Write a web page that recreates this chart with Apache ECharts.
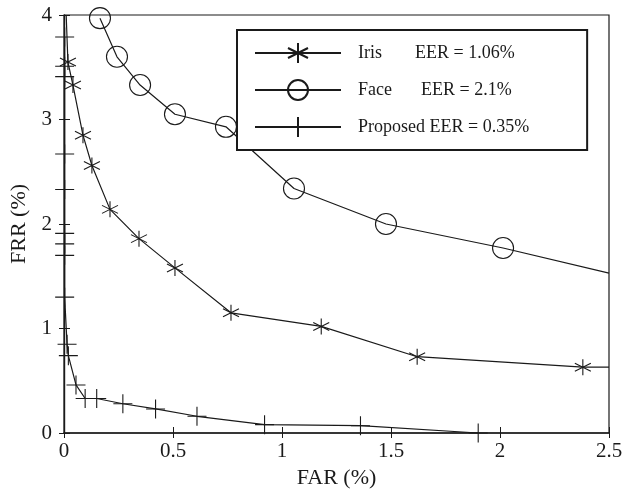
<!DOCTYPE html>
<html>
<head>
    <meta charset="utf-8">
    <title>FAR vs FRR</title>
    <script src="https://cdn.jsdelivr.net/npm/echarts@6/dist/echarts.min.js"></script>
</head>
<body style="margin:0">
<div id="main" style="width: 627px;height:494px;"></div>
<script type="text/javascript">
    // values (FAR %, FRR %)
    var irisFar = [0.01, 0.018, 0.041, 0.087, 0.128, 0.211, 0.344, 0.509, 0.766, 1.18, 1.62, 2.38, 2.5];
    var irisFrr = [4.0, 3.55, 3.33, 2.85, 2.56, 2.14, 1.86, 1.58, 1.15, 1.02, 0.73, 0.63, 0.63];

    var faceFar = [0.165, 0.243, 0.349, 0.509, 0.743, 1.055, 1.477, 2.014, 2.5];
    var faceFrr = [3.97, 3.60, 3.33, 3.05, 2.93, 2.34, 2.00, 1.77, 1.53];

    var propFar = [0.003, 0.003, 0.003, 0.003, 0.003, 0.003, 0.003, 0.003, 0.003,
                   0.014, 0.02, 0.055, 0.097, 0.15, 0.27, 0.42, 0.61, 0.92, 1.36, 1.90];
    var propFrr = [3.79, 3.51, 3.41, 2.67, 2.33, 1.91, 1.81, 1.70, 1.30,
                   0.85, 0.74, 0.46, 0.33, 0.33, 0.28, 0.23, 0.16, 0.08, 0.07, 0.0];

    var names = ['Iris', 'Face', 'Proposed'];
    var eers = ['EER = 1.06%', 'EER = 2.1%', 'EER = 0.35%'];

    var FONT = 'Liberation Serif';
    var INK = '#1a1a1a';
    var starPath = 'path://M0,-1L0,1M-0.87,-0.5L0.87,0.5M-0.87,0.5L0.87,-0.5';
    var plusPath = 'path://M0,-1L0,1M-1,0L1,0';

    function pairs(xs, ys, noSymbolFirst, noSymbolLast) {
        var out = [];
        for (var i = 0; i < xs.length; i++) {
            var item = { value: [xs[i], ys[i]] };
            if ((noSymbolFirst && i === 0) || (noSymbolLast && i === xs.length - 1)) {
                item.symbol = 'none';
            }
            out.push(item);
        }
        return out;
    }

    var myChart = echarts.init(document.getElementById('main'));

    var option = {
        animation: false,
        backgroundColor: '#fff',
        grid: {
            left: 64, right: 18, top: 15, bottom: 58,
            show: true, borderColor: INK, borderWidth: 1.2
        },
        legend: {
            orient: 'vertical',
            left: 237, top: 30,
            padding: [12, 58, 12, 17],
            itemWidth: 86, itemHeight: 25, itemGap: 15,
            borderColor: INK, borderWidth: 2,
            backgroundColor: '#fff',
            data: names,
            formatter: function (n) {
                var i = names.indexOf(n);
                if (i === 2) return '{p|' + n + ' ' + eers[i] + '}';
                return '{a' + i + '|' + n + '}{p|' + eers[i] + '}';
            },
            textStyle: {
                fontFamily: FONT, fontSize: 18, color: INK,
                padding: [0, 0, 0, 12],
                rich: {
                    a0: { width: 57, fontFamily: FONT, fontSize: 18, color: INK },
                    a1: { width: 63, fontFamily: FONT, fontSize: 18, color: INK },
                    p: { fontFamily: FONT, fontSize: 18, color: INK }
                }
            }
        },
        xAxis: [{
            type: 'value', min: 0, max: 2.5, interval: 0.5,
            name: 'FAR (%)', nameLocation: 'middle', nameGap: 34,
            nameTextStyle: { fontFamily: FONT, fontSize: 22, color: INK },
            axisLine: { lineStyle: { color: INK, width: 1.6 } },
            axisTick: { inside: true, length: 6, lineStyle: { color: INK } },
            axisLabel: { fontFamily: FONT, fontSize: 21, color: INK, margin: 8 },
            splitLine: { show: false }
        }, {
            type: 'value', min: 0, max: 2.5, interval: 0.5, position: 'top',
            axisLine: { show: false },
            axisTick: { inside: true, length: 5, lineStyle: { color: INK } },
            axisLabel: { show: false },
            splitLine: { show: false }
        }],
        yAxis: [{
            type: 'value', min: 0, max: 4, interval: 1,
            name: 'FRR (%)', nameLocation: 'middle', nameGap: 29,
            nameTextStyle: { fontFamily: FONT, fontSize: 22, color: INK },
            axisLine: { show: true, lineStyle: { color: INK, width: 1.4 } },
            axisTick: { show: true, inside: true, length: 6, lineStyle: { color: INK } },
            axisLabel: { fontFamily: FONT, fontSize: 21, color: INK, margin: 12 },
            splitLine: { show: false }
        }, {
            type: 'value', min: 0, max: 4, interval: 1, position: 'right',
            axisLine: { show: false },
            axisTick: { show: true, inside: true, length: 5, lineStyle: { color: INK } },
            axisLabel: { show: false },
            splitLine: { show: false }
        }],
        series: [{
            name: 'Iris', type: 'line',
            data: pairs(irisFar, irisFrr, true, true),
            symbol: starPath, symbolSize: 16,
            lineStyle: { color: INK, width: 1.2 },
            itemStyle: { color: 'rgba(0,0,0,0)', borderColor: INK, borderWidth: 1.1 }
        }, {
            name: 'Face', type: 'line',
            data: pairs(faceFar, faceFrr, false, true),
            symbol: 'circle', symbolSize: 21,
            lineStyle: { color: INK, width: 1.2 },
            itemStyle: { color: 'rgba(0,0,0,0)', borderColor: INK, borderWidth: 1.1 }
        }, {
            name: 'Proposed', type: 'line',
            data: pairs(propFar, propFrr, false, false),
            symbol: plusPath, symbolSize: 19,
            lineStyle: { color: INK, width: 1.2 },
            itemStyle: { color: 'rgba(0,0,0,0)', borderColor: INK, borderWidth: 1.1 }
        }]
    };

    myChart.setOption(option);
</script>
</body>
</html>
